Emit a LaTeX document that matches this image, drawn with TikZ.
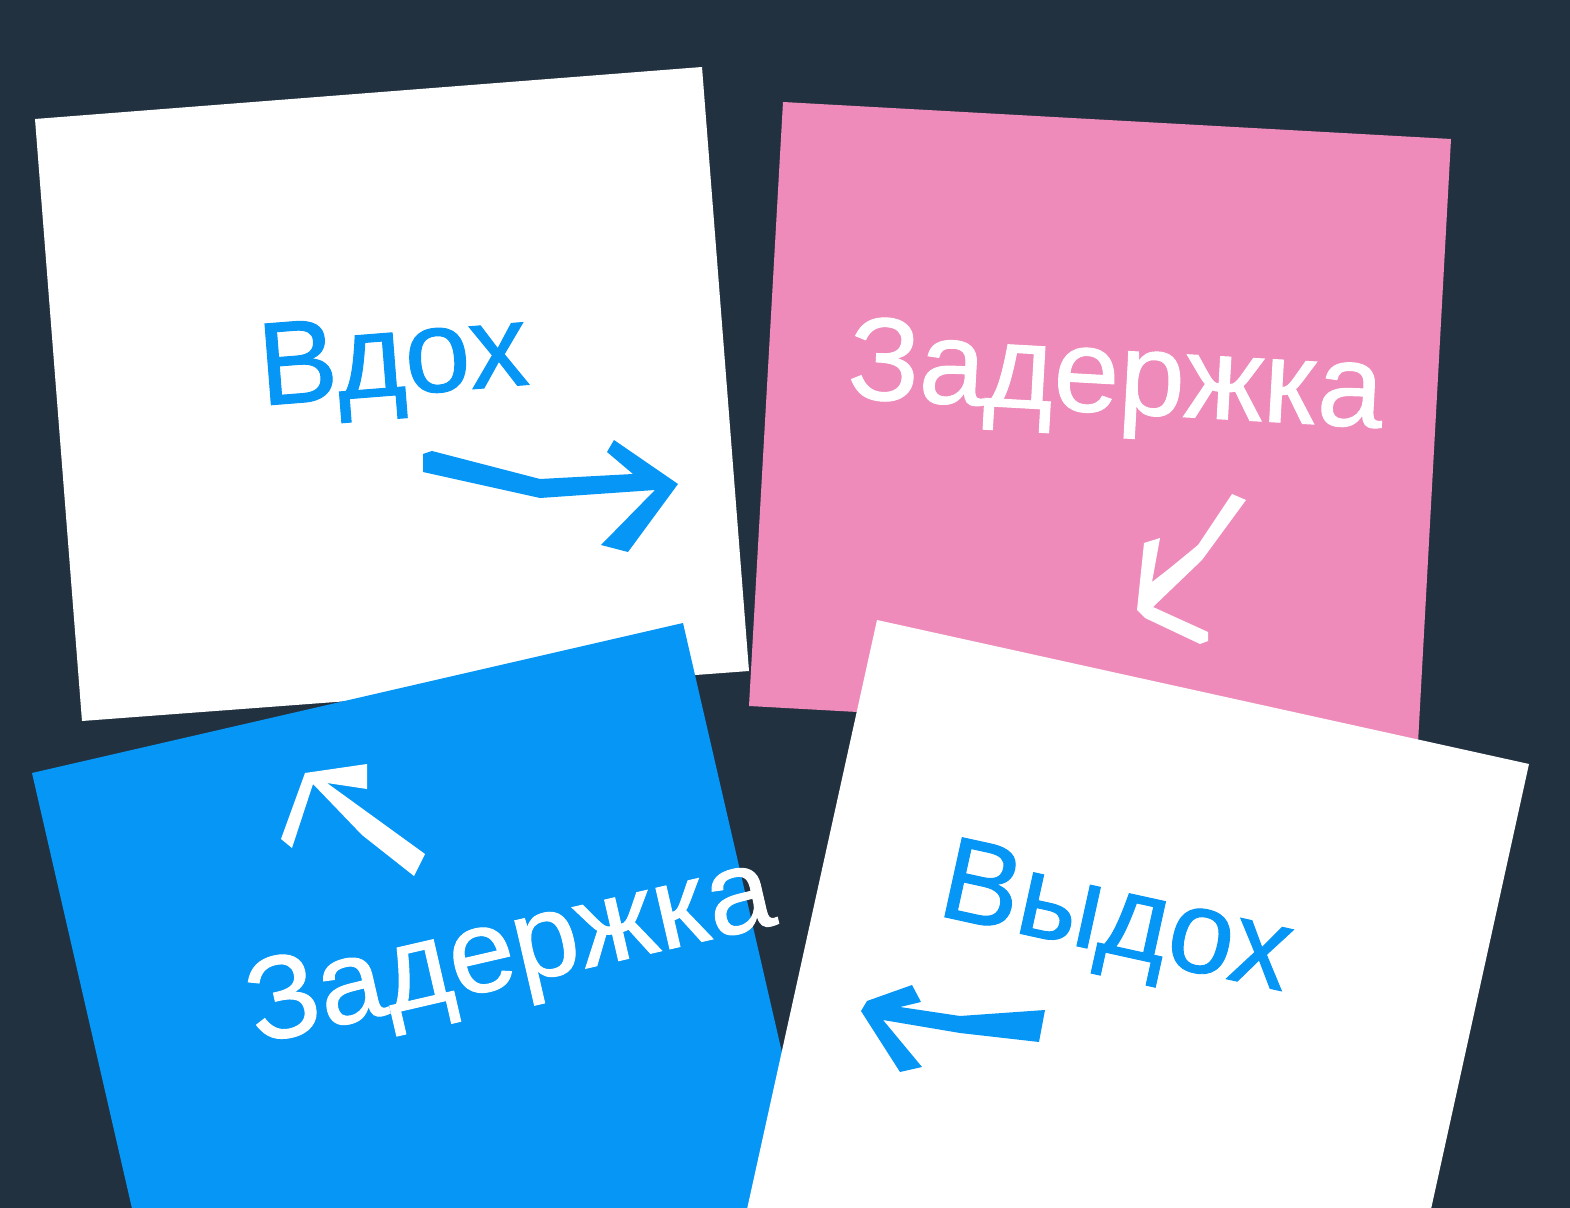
\documentclass[tikz,border=0pt]{standalone}
\usepackage{fontspec}
\setmainfont{Liberation Sans}[FakeBold=0.8]

\definecolor{Fond}{HTML}{223140}
\definecolor{Bleu}{HTML}{0596F6}
\definecolor{Rose}{HTML}{EE8BBA}

\begin{document}
\begin{tikzpicture}[x=0.5pt, y=-0.5pt,
  mot/.style={inner sep=0pt, anchor=base, font=\fontsize{59}{61}\selectfont}]

 \useasboundingbox (0,0) rectangle (1570,1208) ;
 \fill [color=Fond] (0,0) rectangle (1570,1208) ;
 \clip (0,0) rectangle (1570,1208) ;

  %%%%%%%%%% Coins des cartes %%%%%%%%%%
 \coordinate (a1) at (35,119) ;
 \coordinate (a2) at (702,67) ;
 \coordinate (a3) at (749,671) ;
 \coordinate (a4) at (82,721) ;
 \coordinate (b1) at (783,102) ;
 \coordinate (b2) at (1451,139) ;
 \coordinate (b3) at (1418,743) ;
 \coordinate (b4) at (749,706) ;
 \coordinate (c1) at (32,773) ;
 \coordinate (c2) at (683,623) ;
 \coordinate (c3) at (839,1300) ;
 \coordinate (c4) at (153,1300) ;
 \coordinate (d1) at (877,620) ;
 \coordinate (d2) at (1529,764) ;
 \coordinate (d3) at (1411,1300) ;
 \coordinate (d4) at (727,1300) ;

 % Carte 1 : inspiration
 \fill [color=white] (a1) -- (a2) -- (a3) -- (a4) -- cycle ;
 \node [mot, color=Bleu, rotate=4.5] (vdoh) at (396,395) {Вдох} ;
 \fill [color=Bleu] (423,454) -- (432,451) -- (540,479) -- (633,474) -- (607,452) -- (614,440)
   -- (678,484) -- (628,552) -- (601,545) -- (655,490) -- (540,498) -- (423,472) -- cycle ;

 % Carte 2 : pause
 \fill [color=Rose] (b1) -- (b2) -- (b3) -- (b4) -- cycle ;
 \node [mot, color=white, rotate=-3.2] (pauseA) at (1114,413) {Задержка} ;
 \fill [color=white] (1232,494) -- (1246,500) -- (1202,560) -- (1153,607) -- (1208,632) -- (1208,641)
   -- (1200,644) -- (1145,618) -- (1137,610) -- (1144,543) -- (1160,538) -- (1152,582)
   -- (1170,568) -- (1198,545) -- cycle ;

 % Carte 3 : pause
 \fill [color=Bleu] (c1) -- (c2) -- (c3) -- (c4) -- cycle ;
 \node [mot, color=white, rotate=13] (pauseB) at (518,984) {Задержка} ;
 \fill [color=white] (305,773) -- (367,764) -- (367,789) -- (327,783) -- (425,854) -- (414,876)
   -- (362,835) -- (313,784) -- (292,848) -- (281,839) -- cycle ;

 % Carte 4 : expiration
 \fill [color=white] (d1) -- (d2) -- (d3) -- (d4) -- cycle ;
 \node [mot, color=Bleu, rotate=-12.4] (vydoh) at (1109,953) {Выдох} ;
 \fill [color=Bleu] (861,1011) -- (867,1001) -- (912,985) -- (921,1002) -- (900,1007) -- (960,1016)
   -- (1045,1010) -- (1039,1042) -- (960,1033) -- (883,1020) -- (922,1067) -- (900,1072) -- cycle ;

\end{tikzpicture}
\end{document}
